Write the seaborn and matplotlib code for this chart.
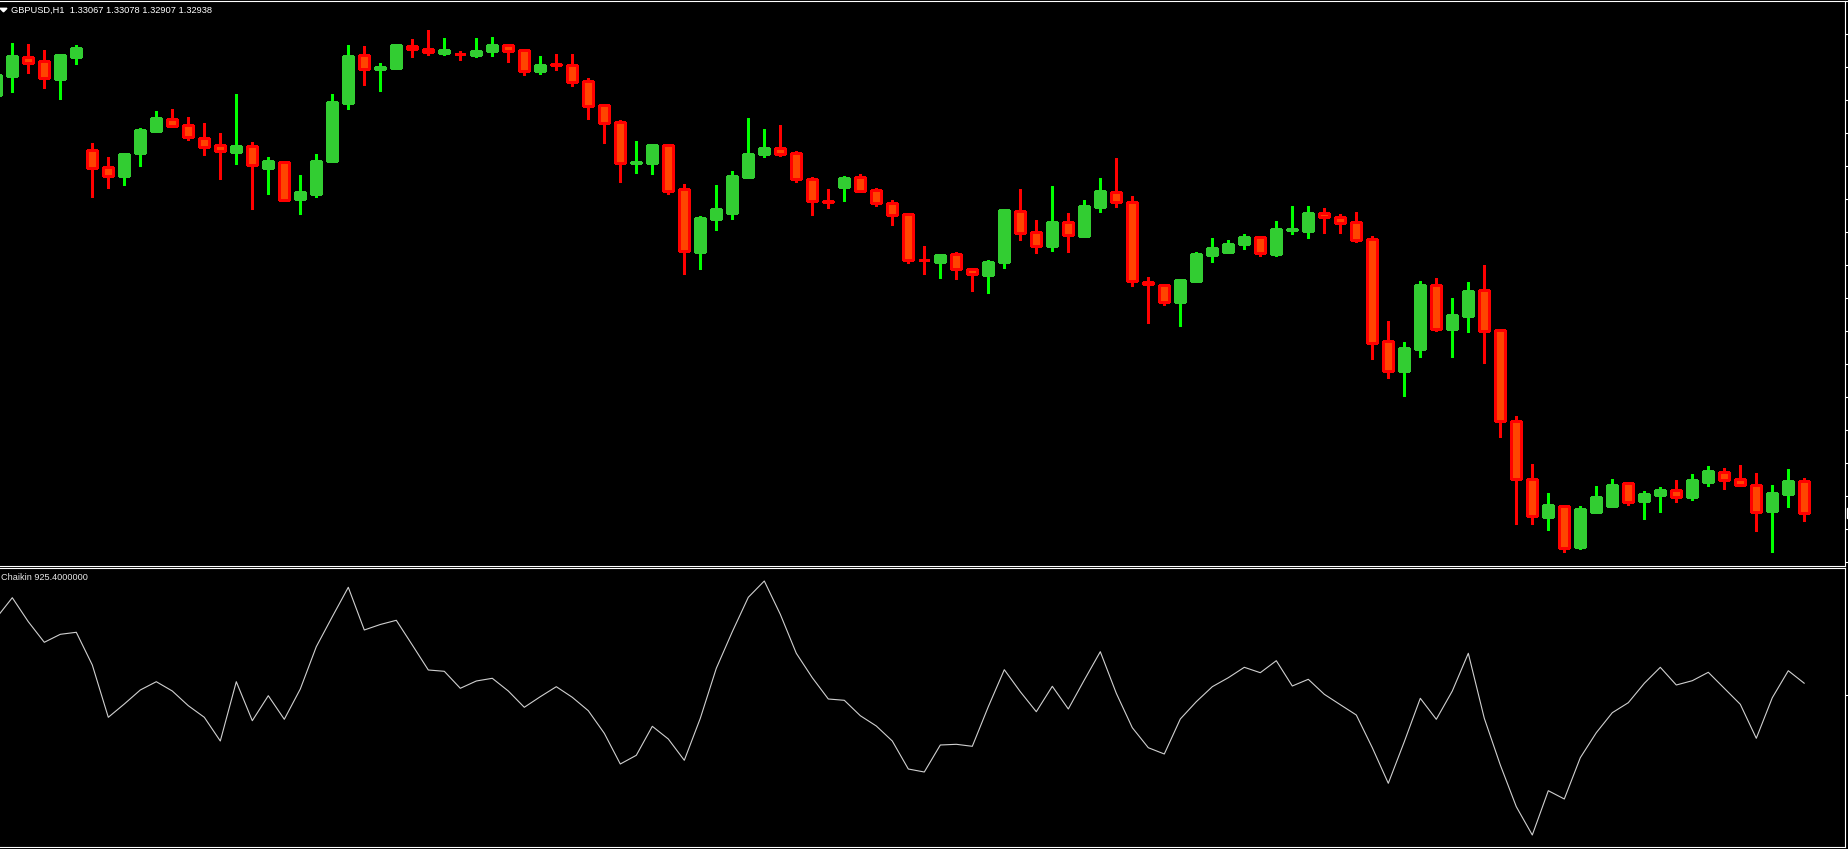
import numpy as np
import pandas as pd
import matplotlib
matplotlib.use("Agg")
import matplotlib.pyplot as plt
import seaborn as sns
from matplotlib.patches import Polygon, Rectangle

# ---------------- data ----------------
symbol = "GBPUSD,H1"
indicator_name = "Chaikin"

opens = [
    1.34611, 1.34688, 1.34763, 1.34747, 1.34676, 1.34764, 1.34391, 1.34323, 1.34288, 1.34380,
    1.34468, 1.34515, 1.34491, 1.34439, 1.34411, 1.34384, 1.34407, 1.34320, 1.34343, 1.34196,
    1.34216, 1.34348, 1.34580, 1.34771, 1.34716, 1.34720, 1.34807, 1.34794, 1.34780, 1.34776,
    1.34772, 1.34788, 1.34810, 1.34791, 1.34708, 1.34734, 1.34731, 1.34667, 1.34571, 1.34503,
    1.34341, 1.34340, 1.34411, 1.34235, 1.33984, 1.34116, 1.34140, 1.34284, 1.34376, 1.34399,
    1.34379, 1.34275, 1.34187, 1.34244, 1.34282, 1.34230, 1.34178, 1.34134, 1.33952, 1.33944,
    1.33974, 1.33914, 1.33892, 1.33944, 1.34146, 1.34062, 1.34008, 1.34102, 1.34048, 1.34164,
    1.34222, 1.34182, 1.33864, 1.33850, 1.33784, 1.33868, 1.33972, 1.33984, 1.34016, 1.34042,
    1.33976, 1.34073, 1.34068, 1.34139, 1.34122, 1.34102, 1.34034, 1.33626, 1.33508, 1.33596,
    1.33850, 1.33676, 1.33728, 1.33830, 1.33670, 1.33306, 1.33074, 1.32924, 1.32966, 1.32804,
    1.32944, 1.32968, 1.33059, 1.32988, 1.33012, 1.33031, 1.33004, 1.33064, 1.33103, 1.33075,
    1.33051, 1.32948, 1.33016, 1.33067,
]
highs = [
    1.34703, 1.34820, 1.34816, 1.34791, 1.34776, 1.34811, 1.34419, 1.34363, 1.34375, 1.34479,
    1.34547, 1.34555, 1.34523, 1.34499, 1.34459, 1.34615, 1.34423, 1.34363, 1.34347, 1.34292,
    1.34376, 1.34615, 1.34811, 1.34807, 1.34739, 1.34815, 1.34835, 1.34871, 1.34839, 1.34787,
    1.34839, 1.34843, 1.34815, 1.34791, 1.34768, 1.34775, 1.34775, 1.34679, 1.34571, 1.34511,
    1.34427, 1.34411, 1.34415, 1.34255, 1.34127, 1.34251, 1.34307, 1.34519, 1.34475, 1.34491,
    1.34387, 1.34283, 1.34235, 1.34287, 1.34295, 1.34238, 1.34191, 1.34134, 1.34007, 1.33975,
    1.33983, 1.33914, 1.33951, 1.34150, 1.34235, 1.34111, 1.34247, 1.34139, 1.34191, 1.34279,
    1.34359, 1.34207, 1.33882, 1.33854, 1.33874, 1.33982, 1.34039, 1.34031, 1.34055, 1.34042,
    1.34107, 1.34167, 1.34167, 1.34159, 1.34135, 1.34143, 1.34046, 1.33707, 1.33622, 1.33866,
    1.33878, 1.33798, 1.33862, 1.33930, 1.33670, 1.33326, 1.33134, 1.33018, 1.32970, 1.32966,
    1.33047, 1.33075, 1.33063, 1.33027, 1.33043, 1.33071, 1.33095, 1.33127, 1.33119, 1.33131,
    1.33099, 1.33051, 1.33115, 1.33078,
]
lows = [
    1.34599, 1.34624, 1.34699, 1.34640, 1.34595, 1.34736, 1.34203, 1.34240, 1.34251, 1.34328,
    1.34464, 1.34483, 1.34432, 1.34371, 1.34276, 1.34336, 1.34156, 1.34216, 1.34192, 1.34136,
    1.34204, 1.34344, 1.34556, 1.34652, 1.34628, 1.34719, 1.34764, 1.34772, 1.34772, 1.34752,
    1.34764, 1.34768, 1.34744, 1.34692, 1.34696, 1.34712, 1.34648, 1.34516, 1.34419, 1.34264,
    1.34300, 1.34296, 1.34216, 1.33896, 1.33916, 1.34072, 1.34116, 1.34284, 1.34364, 1.34368,
    1.34264, 1.34131, 1.34160, 1.34188, 1.34226, 1.34168, 1.34092, 1.33940, 1.33896, 1.33880,
    1.33876, 1.33828, 1.33820, 1.33920, 1.34032, 1.33980, 1.33988, 1.33984, 1.34048, 1.34144,
    1.34164, 1.33848, 1.33700, 1.33770, 1.33688, 1.33864, 1.33944, 1.33980, 1.33996, 1.33968,
    1.33968, 1.34056, 1.34040, 1.34060, 1.34060, 1.34024, 1.33556, 1.33480, 1.33408, 1.33564,
    1.33668, 1.33564, 1.33664, 1.33540, 1.33244, 1.32896, 1.32896, 1.32872, 1.32784, 1.32796,
    1.32940, 1.32968, 1.32972, 1.32916, 1.32944, 1.32984, 1.32992, 1.33048, 1.33036, 1.33052,
    1.32868, 1.32784, 1.32964, 1.32907,
]
closes = [
    1.34691, 1.34767, 1.34740, 1.34680, 1.34771, 1.34799, 1.34320, 1.34288, 1.34375, 1.34471,
    1.34519, 1.34488, 1.34442, 1.34404, 1.34388, 1.34407, 1.34332, 1.34347, 1.34192, 1.34223,
    1.34347, 1.34583, 1.34767, 1.34716, 1.34723, 1.34811, 1.34794, 1.34784, 1.34791, 1.34774,
    1.34787, 1.34811, 1.34788, 1.34708, 1.34731, 1.34731, 1.34664, 1.34568, 1.34500, 1.34340,
    1.34343, 1.34411, 1.34228, 1.33988, 1.34119, 1.34155, 1.34287, 1.34375, 1.34399, 1.34376,
    1.34274, 1.34188, 1.34185, 1.34278, 1.34226, 1.34178, 1.34130, 1.33950, 1.33950, 1.33970,
    1.33914, 1.33894, 1.33942, 1.34150, 1.34058, 1.34006, 1.34102, 1.34050, 1.34166, 1.34226,
    1.34182, 1.33866, 1.33854, 1.33782, 1.33870, 1.33974, 1.33998, 1.34014, 1.34042, 1.33978,
    1.34074, 1.34075, 1.34139, 1.34124, 1.34100, 1.34032, 1.33620, 1.33506, 1.33598, 1.33850,
    1.33676, 1.33730, 1.33826, 1.33668, 1.33306, 1.33074, 1.32929, 1.32970, 1.32800, 1.32954,
    1.33003, 1.33051, 1.32984, 1.33015, 1.33031, 1.33004, 1.33071, 1.33107, 1.33072, 1.33052,
    1.32944, 1.33019, 1.33067, 1.32938,
]
chaikin = [
    6091, 7696, 5798, 4169, 4801, 4960, 2373, -1764, -712, 396,
    1052, 316, -846, -1764, -3639, 1052, -2033, -55, -1922, 475,
    3821, 6194, 8519, 5142, 5577, 5909, 3955, 1978, 1875, 530,
    1107, 1321, 316, -973, -134, 657, -182, -1242, -3030, -5458,
    -4770, -2476, -3480, -5165, -1843, 2112, 5007, 7728, 9017, 6383,
    3298, 1368, -316, -419, -1637, -2452, -3639, -5853, -6091, -3955,
    -3900, -4058, -925, 2001, 261, -1321, 688, -1107, 1187, 3425,
    134, -2587, -4169, -4667, -1898, -530, 657, 1368, 2191, 1764,
    2713, 712, 1242, 55, -767, -1582, -4169, -6985, -3694, -261,
    -1922, 316, 3298, -1843, -5537, -8835, -11074, -7570, -8226, -4960,
    -2982, -1400, -609, 925, 2191, 791, 1131, 1796, 530, -736,
    -3425, -214, 1922, 925.4,
]

# ---------------- styling ----------------
sns.set_style("dark", rc={"axes.facecolor": "black", "figure.facecolor": "black",
                          "axes.grid": False})
plt.rcParams["font.family"] = ["Liberation Sans", "DejaVu Sans"]

W, H = 1848, 849
fig = plt.figure(figsize=(W / 100, H / 100), dpi=100)
fig.patch.set_facecolor("black")


def fx(px):
    return px / W


def fy(py):
    return 1 - py / H


ax = fig.add_axes([0, fy(566), 1845 / W, (566 - 1) / H])
ax2 = fig.add_axes([0, fy(847), 1845 / W, (847 - 568) / H])

df = pd.DataFrame({"bar": np.arange(len(opens)), "open": opens, "high": highs,
                   "low": lows, "close": closes, "chaikin": chaikin})

bull = df["close"] >= df["open"]
wick_col = np.where(bull, "#00FF00", "#FF0000")
body_col = np.where(bull, "#32CD32", "#FF4500")
edge_col = np.where(bull, "#32CD32", "#FF0000")

ax.vlines(df["bar"], df["low"], df["high"], colors=wick_col, linewidth=0.8,
          antialiased=False, zorder=2)
ax.bar(df["bar"], (df["close"] - df["open"]).abs(),
       bottom=np.minimum(df["open"], df["close"]), width=0.625,
       color=body_col, edgecolor=edge_col, linewidth=0.8, antialiased=False, zorder=3)

sns.lineplot(data=df, x="bar", y="chaikin", ax=ax2, color="#D0D0D0",
             linewidth=0.8, legend=False)

# price scale: 1 px = 0.00004, pixel row 0 -> 1.34991
p0, ppx = 1.34991, 0.00004
ax.set_ylim(p0 - ppx * 566, p0 - ppx * 1)
ax.set_yticks([p0 - ppx * (1.3 + 33 * k) for k in range(18)])
v_per_px = 79.1
ax2.set_ylim(-(847 - 695) * v_per_px, (695 - 568) * v_per_px)
ax2.set_yticks([0])

for a in (ax, ax2):
    a.set_facecolor("black")
    a.set_xlim(3.7 / 16, (1845 + 3.7) / 16)
    a.grid(False)
    for s in a.spines.values():
        s.set_color("white")
        s.set_linewidth(0.8)
    a.spines["left"].set_visible(False)
    a.tick_params(axis="x", bottom=False, labelbottom=False)
    a.tick_params(axis="y", left=False, labelleft=False, right=True,
                  labelright=False, direction="out", length=2.5, width=0.8,
                  color="white")
    a.set_xlabel("")
    a.set_ylabel("")

# header texts
title = f"{symbol}  {opens[-1]:.5f} {highs[-1]:.5f} {lows[-1]:.5f} {closes[-1]:.5f}"
fig.text(fx(11), fy(12.7), title, color="white", fontsize=6.7, va="baseline", ha="left")
fig.add_artist(Polygon([[fx(0), fy(8.3)], [fx(7), fy(8.3)], [fx(3.5), fy(11.8)]],
                       closed=True, transform=fig.transFigure, color="white"))
fig.text(fx(1), fy(580), f"{indicator_name} {chaikin[-1]:.7f}", color="#E8E8E8",
         fontsize=6.6, va="baseline", ha="left")

# current price marker (cut at the right edge)
ycur = (p0 - closes[-1]) / ppx
fig.add_artist(Rectangle((fx(1846.5), fy(ycur + 5)), fx(1.5), 10 / H,
                         transform=fig.transFigure, color="white"))

fig.savefig("out.png", dpi=100, facecolor="black")
